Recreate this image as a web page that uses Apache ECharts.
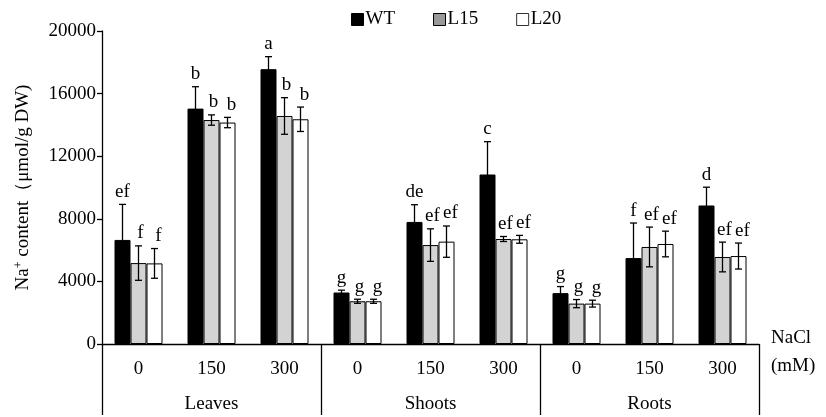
<!DOCTYPE html>
<html>
<head>
<meta charset="utf-8">
<script src="https://cdn.jsdelivr.net/npm/echarts@6/dist/echarts.min.js"></script>
<style>
  html, body { margin: 0; padding: 0; background: #fff; }
  #chart { width: 826px; height: 417px; }
</style>
</head>
<body>
<div id="chart"></div>
<script>
// NaCl dose per group and tissue groups
const doses = ['0', '150', '300', '0', '150', '300', '0', '150', '300']
const tissues = ['Leaves', 'Shoots', 'Roots']
const yTicks = [0, 4000, 8000, 12000, 16000, 20000]

// Na+ content (umol/g DW), mean and error
const wtValues = [6650, 15040, 17560, 3290, 7800, 10830, 3250, 5490, 8850]
const wtErrors = [2270, 1400, 800, 150, 1100, 2100, 420, 2240, 1170]
const l15Values = [5170, 14310, 14570, 2730, 6320, 6710, 2580, 6200, 5560]
const l15Errors = [1100, 330, 1170, 130, 1040, 160, 260, 1270, 950]
const l20Values = [5150, 14150, 14360, 2730, 6540, 6690, 2580, 6390, 5620]
const l20Errors = [950, 330, 780, 130, 1000, 250, 220, 820, 830]

// significance letters
const wtLetters = ['ef', 'b', 'a', 'g', 'de', 'c', 'g', 'f', 'd']
const l15Letters = ['f', 'b', 'b', 'g', 'ef', 'ef', 'g', 'ef', 'ef']
const l20Letters = ['f', 'b', 'b', 'g', 'ef', 'ef', 'g', 'ef', 'ef']

const FONT = "'Liberation Serif', 'Times New Roman', serif"
const FS = 19
const BAR_W = 16

const chart = echarts.init(document.getElementById('chart'))

// error bar + letter for one genotype, idx = position in the cluster
function errorSeries (name, idx, values, errors, letters) {
  return {
    name: name + ' err',
    type: 'custom',
    z: 5,
    silent: true,
    data: values.map((v, i) => [i, v, errors[i]]),
    renderItem (params, api) {
      const cat = api.value(0)
      const mean = api.value(1)
      const err = api.value(2)
      const x = api.coord([cat, mean])[0] + (idx - 1) * BAR_W
      const yTop = api.coord([cat, mean + err])[1]
      const yBot = api.coord([cat, mean - err])[1]
      const cap = 3.5
      const style = { stroke: '#000', lineWidth: 1.3 }
      return {
        type: 'group',
        children: [
          { type: 'line', shape: { x1: x, y1: yTop, x2: x, y2: yBot }, style },
          { type: 'line', shape: { x1: x - cap, y1: yTop, x2: x + cap, y2: yTop }, style },
          { type: 'line', shape: { x1: x - cap, y1: yBot, x2: x + cap, y2: yBot }, style },
          {
            type: 'text',
            x: x + idx * 2,
            y: yTop - 3,
            style: {
              text: letters[params.dataIndex],
              fill: '#000',
              font: FS + 'px ' + FONT,
              align: 'center',
              verticalAlign: 'bottom'
            }
          }
        ]
      }
    }
  }
}

const option = {
  animation: false,
  textStyle: { fontFamily: FONT, color: '#000' },
  grid: { left: 102, right: 67, top: 31, bottom: 73 },
  legend: {
    top: 5,
    left: 346,
    itemWidth: 12,
    itemHeight: 12,
    itemGap: 38,
    textStyle: { fontFamily: FONT, fontSize: FS, color: '#000', padding: [0, 0, 0, -3] },
    data: [
      { name: 'WT', icon: 'rect', itemStyle: { color: '#000', borderColor: '#000', borderWidth: 1 } },
      { name: 'L15', icon: 'rect', itemStyle: { color: '#999', borderColor: '#000', borderWidth: 1 } },
      { name: 'L20', icon: 'rect', itemStyle: { color: '#fff', borderColor: '#333', borderWidth: 1 } }
    ]
  },
  xAxis: [
    {
      type: 'category',
      data: doses,
      position: 'bottom',
      name: '{g| }\n{t|NaCl}\n{t|(mM)}',
      nameLocation: 'end',
      nameGap: 12,
      nameTextStyle: {
        align: 'left',
        rich: {
          g: { fontSize: 1, lineHeight: 16 },
          t: { fontFamily: FONT, fontSize: FS, color: '#000', lineHeight: 28 }
        }
      },
      axisLine: { lineStyle: { color: '#000', width: 1.3 } },
      axisTick: { interval: 0, length: 35, lineStyle: { color: '#000', width: 1.3 } },
      axisLabel: { interval: 0, margin: 16, fontFamily: FONT, fontSize: FS, color: '#000' }
    },
    {
      type: 'category',
      data: tissues,
      position: 'bottom',
      offset: 0,
      axisLine: { show: false },
      axisTick: { show: true, interval: 0, length: 71, lineStyle: { color: '#000', width: 1.3 } },
      axisLabel: { interval: 0, margin: 51, fontFamily: FONT, fontSize: FS, color: '#000' }
    }
  ],
  yAxis: {
    type: 'value',
    min: yTicks[0],
    max: yTicks[yTicks.length - 1],
    interval: yTicks[1] - yTicks[0],
    name: '{a|Na}{s|+}{a| content（μmol/g DW)}',
    nameLocation: 'middle',
    nameGap: 68,
    nameTextStyle: {
      rich: {
        a: { fontFamily: FONT, fontSize: FS, color: '#000' },
        s: { fontFamily: FONT, fontSize: 12, color: '#000', verticalAlign: 'top', padding: [0, 0, 9, 0] }
      }
    },
    splitLine: { show: false },
    axisLine: { show: true, lineStyle: { color: '#000', width: 1.3 } },
    axisTick: { show: true, length: 5, lineStyle: { color: '#000', width: 1.3 } },
    axisLabel: { margin: 6, fontFamily: FONT, fontSize: FS, color: '#000', formatter: v => String(v) }
  },
  series: [
    {
      name: 'WT',
      type: 'bar',
      barWidth: BAR_W,
      barGap: 0,
      silent: true,
      itemStyle: { color: '#000', borderColor: '#000', borderWidth: 1 },
      data: wtValues
    },
    {
      name: 'L15',
      type: 'bar',
      barWidth: BAR_W,
      barGap: 0,
      silent: true,
      itemStyle: { color: '#d3d3d3', borderColor: '#000', borderWidth: 1 },
      data: l15Values
    },
    {
      name: 'L20',
      type: 'bar',
      barWidth: BAR_W,
      barGap: 0,
      silent: true,
      itemStyle: { color: '#fff', borderColor: '#000', borderWidth: 1 },
      data: l20Values
    },
    errorSeries('WT', 0, wtValues, wtErrors, wtLetters),
    errorSeries('L15', 1, l15Values, l15Errors, l15Letters),
    errorSeries('L20', 2, l20Values, l20Errors, l20Letters)
  ]
}

chart.setOption(option)
</script>
</body>
</html>
